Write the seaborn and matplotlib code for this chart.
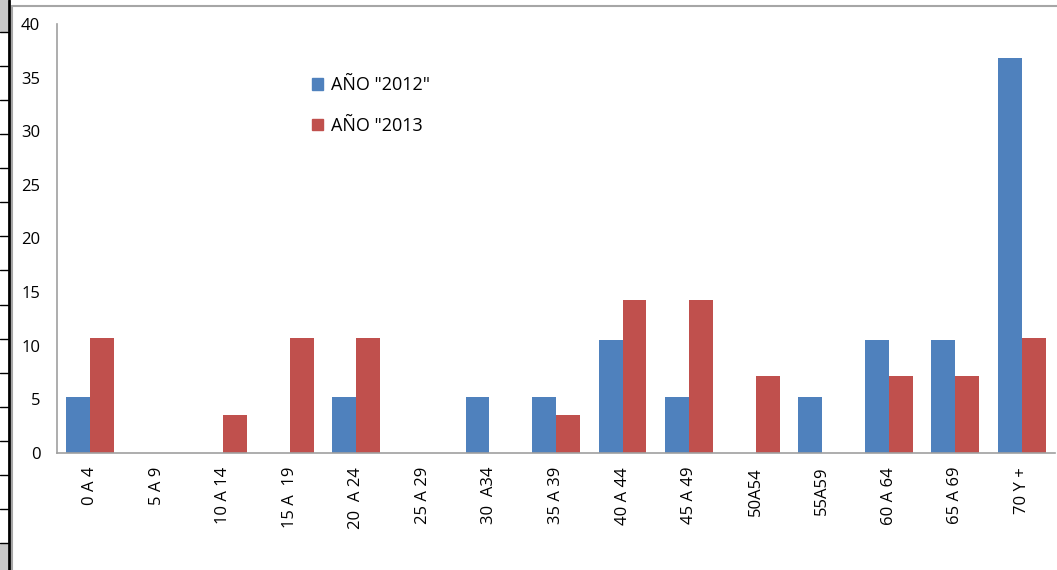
import numpy as np
import pandas as pd
import seaborn as sns
import matplotlib.pyplot as plt
from matplotlib.lines import Line2D
from matplotlib.patches import Rectangle

# age groups and percentages
age_groups = ["0 A 4", "5 A 9", "10 A 14", "15 A  19", "20  A 24", "25 A 29",
              "30  A34", "35 A 39", "40 A 44", "45 A 49", "50A54", "55A59",
              "60 A 64", "65 A 69", "70 Y +"]
series_names = ['AÑO "2012"', 'AÑO "2013']
values_2012 = [5.26, 0, 0, 0, 5.26, 0, 5.26, 5.26, 10.53, 5.26, 0, 5.26, 10.53, 10.53, 36.84]
values_2013 = [10.71, 0, 3.57, 10.71, 10.71, 0, 0, 3.57, 14.29, 14.29, 7.14, 0, 7.14, 7.14, 10.71]
y_ticks = [0, 5, 10, 15, 20, 25, 30, 35, 40]

colors = ["#4F81BD", "#C0504D"]

df = pd.DataFrame({
    "grupo": age_groups * 2,
    "serie": [series_names[0]] * len(age_groups) + [series_names[1]] * len(age_groups),
    "valor": values_2012 + values_2013,
})

sns.set_theme(style="white")
plt.rcParams['font.family'] = ['Open Sans', 'DejaVu Sans']
plt.rcParams['text.color'] = 'black'
plt.rcParams['xtick.color'] = 'black'
plt.rcParams['ytick.color'] = 'black'

fig = plt.figure(figsize=(10.57, 5.70), dpi=100)
W, H = 1057, 570
ax = fig.add_axes([57 / W, 1 - 453 / H, (1055 - 57) / W, (453 - 24) / H])

sns.barplot(data=df, x="grupo", y="valor", hue="serie", order=age_groups,
            hue_order=series_names, palette=colors, width=0.72, saturation=1,
            edgecolor="none", ax=ax)

ax.set_ylim(0, 40)
ax.set_xlim(-0.5, len(age_groups) - 0.5)
ax.set_yticks(y_ticks)
ax.set_yticklabels([str(t) for t in y_ticks], fontsize=12)
ax.set_xticks(range(len(age_groups)))
ax.set_xticklabels(age_groups, rotation=90, fontsize=12)
ax.tick_params(axis="y", length=0, pad=12, labelcolor="black")
ax.tick_params(axis="x", length=0, pad=10, labelcolor="black")
ax.set_xlabel("")
ax.set_ylabel("")

for side in ["top", "right"]:
    ax.spines[side].set_visible(False)
for side in ["left", "bottom"]:
    ax.spines[side].set_color("#A0A0A0")
    ax.spines[side].set_linewidth(1.2)

handles = [Rectangle((0, 0), 1, 1, color=c) for c in colors]
leg = ax.legend(handles, series_names, loc="upper left", bbox_to_anchor=(296 / W, 1 - 60 / H),
                bbox_transform=fig.transFigure, frameon=False, fontsize=13,
                handlelength=0.6, handleheight=0.6, handletextpad=0.45, labelspacing=1.25)
for t in leg.get_texts():
    t.set_color("black")

# chart frame and spreadsheet cells on the left edge
fig.add_artist(Line2D([12 / W, 1], [1 - 6 / H, 1 - 6 / H], transform=fig.transFigure,
                      color="#A6A6A6", lw=1.5))
fig.add_artist(Line2D([12 / W, 12 / W], [0, 1 - 6 / H], transform=fig.transFigure,
                      color="#A6A6A6", lw=1.5))
fig.add_artist(Rectangle((0, 1 - 32 / H), 8 / W, 32 / H, transform=fig.transFigure,
                         color="#C8C8C8", lw=0))
fig.add_artist(Rectangle((0, 0), 8 / W, (570 - 543) / H, transform=fig.transFigure,
                         color="#C8C8C8", lw=0))
for yy in np.linspace(32, 543, 16):
    fig.add_artist(Line2D([0, 8 / W], [1 - yy / H, 1 - yy / H], transform=fig.transFigure,
                          color="black", lw=1))
fig.add_artist(Line2D([8.5 / W, 8.5 / W], [0, 1], transform=fig.transFigure,
                      color="black", lw=2))

fig.savefig("out.png", dpi=100)
